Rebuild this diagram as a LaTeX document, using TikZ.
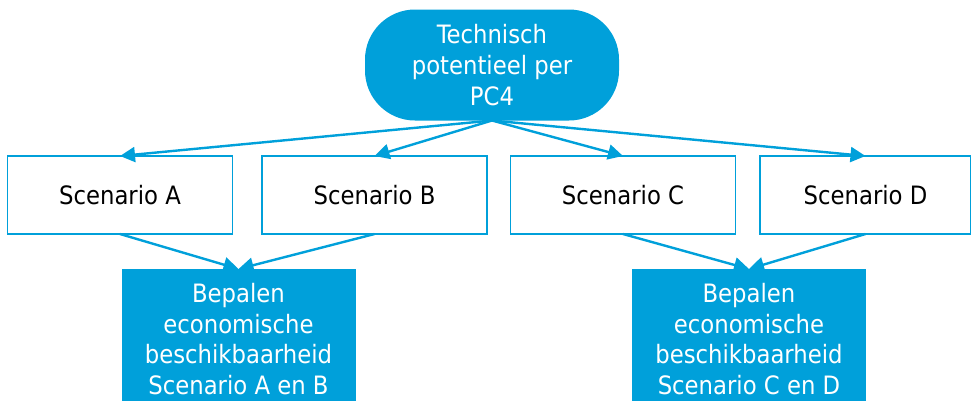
\documentclass[tikz,border=0pt]{standalone}
\usepackage{fontspec}
\setmainfont{DejaVu Sans Condensed}
\usetikzlibrary{arrows.meta}
\definecolor{brandblue}{RGB}{0,160,218}
\begin{document}
\begin{tikzpicture}[x=1pt,y=-1pt,
  every node/.style={inner sep=0pt, outer sep=0pt},
  basefont/.style={font=\fontsize{25.3}{30.7}\selectfont},
  scen/.style={basefont, draw=brandblue, line width=1.3pt, fill=white,
    minimum width=225pt, minimum height=78pt},
  pill/.style={basefont, fill=brandblue, text=white, align=center,
    rounded corners=50pt, minimum width=254pt, minimum height=111pt},
  result/.style={basefont, fill=brandblue, text=white, align=center,
    minimum width=234pt, minimum height=140pt},
  flow/.style={draw=brandblue, line width=2.4pt,
    -{Triangle[length=15pt,width=15pt]}}]
  \useasboundingbox (0,0) rectangle (971,400);
  \clip (0,0) rectangle (971,400);

  % top node
  \node[pill] (top) at (492,65) {Technisch\\potentieel per\\PC4};

  % scenarios
  \node[scen] (sa) at (120,195) {Scenario A};
  \node[scen] (sb) at (374.5,195) {Scenario B};
  \node[scen] (sc) at (623,195) {Scenario C};
  \node[scen, minimum width=211pt] (sd) at (865.5,195) {Scenario D};

  % economic availability per pair of scenarios
  \node[result] (eab) at (238.5,339) {Bepalen\\economische\\beschikbaarheid\\Scenario A en B};
  \node[result] (ecd) at (749,339) {Bepalen\\economische\\beschikbaarheid\\Scenario C en D};

  \foreach \s in {sa,sb,sc,sd} \draw[flow] (top.south) -- (\s.north);
  \draw[flow] (sa.south) -- (eab.north);
  \draw[flow] (sb.south) -- (eab.north);
  \draw[flow] (sc.south) -- (ecd.north);
  \draw[flow] (sd.south) -- (ecd.north);
\end{tikzpicture}
\end{document}
